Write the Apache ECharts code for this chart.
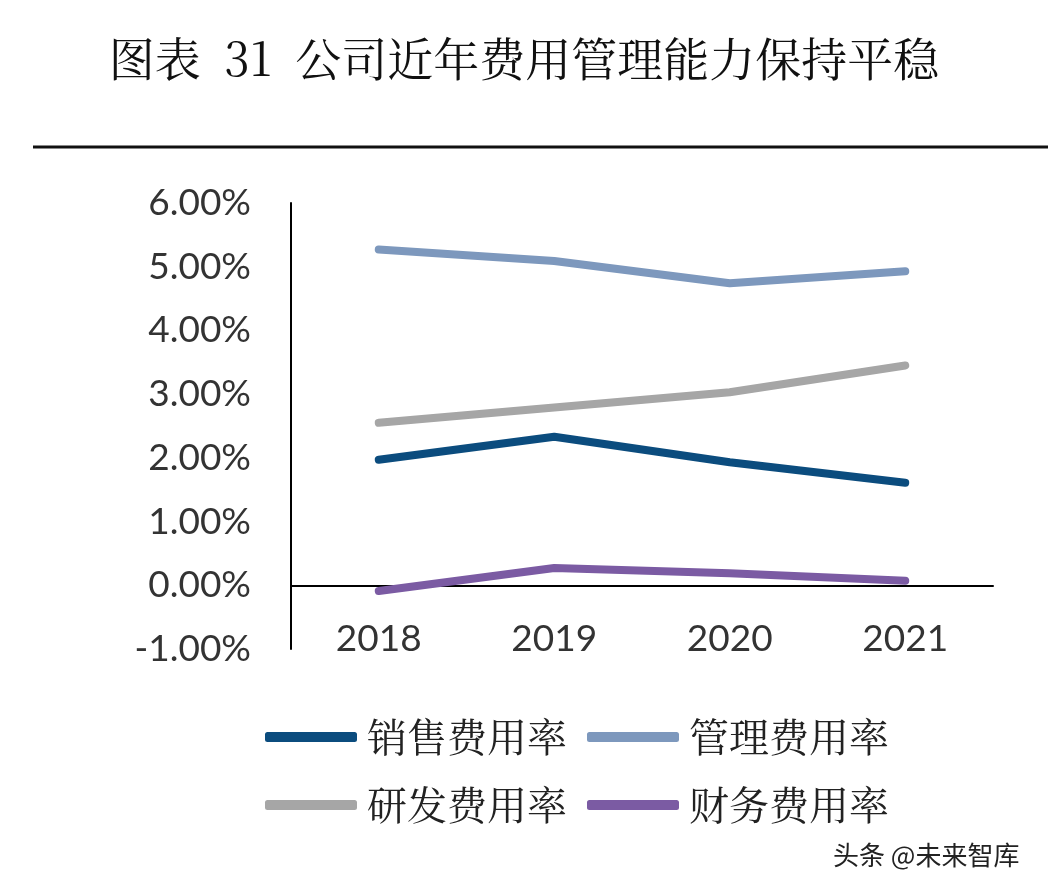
<!DOCTYPE html>
<html>
<head>
<meta charset="utf-8">
<script src="https://cdn.jsdelivr.net/npm/echarts@6/dist/echarts.min.js"></script>
<style>
html,body{margin:0;padding:0;background:#fff;}
#c{width:1048px;height:892px;}
</style>
</head>
<body>
<div id="c"></div>
<script>
var categories = ['2018', '2019', '2020', '2021'];
var salesRate = [1.97, 2.33, 1.93, 1.61];
var mgmtRate = [5.27, 5.09, 4.74, 4.93];
var rdRate = [2.55, 2.79, 3.03, 3.45];
var finRate = [-0.09, 0.27, 0.19, 0.07];
var seriesNames = ['销售费用率', '管理费用率', '研发费用率', '财务费用率'];
var yTicks = {min: -1, max: 6, interval: 1};

var colors = ['#0B4C7E', '#7D98BD', '#A6A6A6', '#7B5BA3'];
var cjk = '"Noto Serif CJK SC", "Noto Sans CJK SC", serif';
var latin = 'Lato, "Open Sans", sans-serif';

var chart = echarts.init(document.getElementById('c'));
function mk(name, data, color, z) {
  return {
    name: name, type: 'line', data: data, symbol: 'none', z: z,
    lineStyle: {width: 8, color: color, cap: 'round', join: 'round'},
    itemStyle: {color: color}
  };
}
var legendCommon = {
  icon: 'roundRect', itemWidth: 92, itemHeight: 10, itemGap: 20,
  textStyle: {fontFamily: cjk, fontSize: 40, color: '#222', padding: [0, 0, 0, 5]},
  selectedMode: false
};
chart.setOption({
  backgroundColor: '#fff',
  animation: false,
  title: {
    text: '图表  31  公司近年费用管理能力保持平稳',
    left: 'center', top: 31,
    textStyle: {fontFamily: cjk, fontSize: 46, fontWeight: 'normal', color: '#111'}
  },
  graphic: [
    {type: 'line', shape: {x1: 33, y1: 147, x2: 1048, y2: 147}, style: {stroke: '#111', lineWidth: 3}},
    {type: 'text', left: 833, top: 842, style: {text: '头条 @未来智库', fontFamily: '"Noto Sans CJK SC", sans-serif', fontSize: 26, fill: '#222'}}
  ],
  legend: [
    Object.assign({data: [seriesNames[0], seriesNames[1]], left: 260, top: 712}, legendCommon),
    Object.assign({data: [seriesNames[2], seriesNames[3]], left: 260, top: 780}, legendCommon)
  ],
  grid: {left: 291, right: 55, top: 203, bottom: 243, containLabel: false},
  xAxis: {
    type: 'category', data: categories, boundaryGap: true,
    axisLine: {show: true, onZero: true, lineStyle: {color: '#000', width: 2}},
    axisTick: {show: false},
    axisLabel: {margin: -28, fontFamily: latin, fontSize: 37, color: '#333'}
  },
  yAxis: {
    type: 'value', min: yTicks.min, max: yTicks.max, interval: yTicks.interval,
    axisLine: {show: true, lineStyle: {color: '#000', width: 2}},
    axisTick: {show: false},
    splitLine: {show: false},
    axisLabel: {margin: 40, fontFamily: latin, fontSize: 37, color: '#333',
      formatter: function (v) { return v.toFixed(2) + '%'; }}
  },
  series: [
    mk(seriesNames[0], salesRate, colors[0], 4),
    mk(seriesNames[1], mgmtRate, colors[1], 3),
    mk(seriesNames[2], rdRate, colors[2], 2),
    mk(seriesNames[3], finRate, colors[3], 5)
  ]
});
</script>
</body>
</html>
